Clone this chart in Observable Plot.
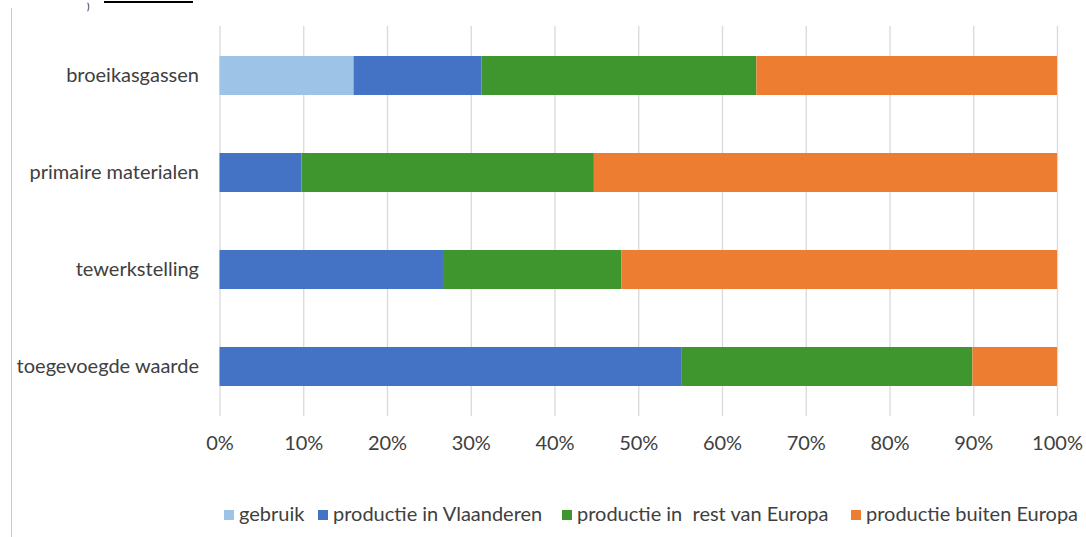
<!DOCTYPE html>
<html>
<head>
<meta charset="utf-8">
<script src="https://cdn.jsdelivr.net/npm/d3@7"></script>
<script src="https://cdn.jsdelivr.net/npm/@observablehq/plot@0.6"></script>
<style>
  html, body { margin: 0; padding: 0; background: #fff; }
  body { width: 1086px; height: 537px; position: relative; overflow: hidden; font-family: Lato, "Noto Sans", sans-serif; }
  #leftrule { position: absolute; left: 11px; top: 8px; width: 1px; height: 529px; background: #c8c8c8; }
  #topfrag { position: absolute; left: 87px; top: 1px; font-size: 9px; line-height: 11px; color: #000; }
  #topline { position: absolute; left: 104px; top: 1px; width: 89px; height: 2px; background: #000; }
  #chart { position: absolute; left: 0; top: 0; }
  #legend { position: absolute; left: 0; top: 500px; width: 1086px; font-size: 20px; color: #404040; }
  .item { position: absolute; top: 0; white-space: pre; line-height: 26px; }
  .sw { display: inline-block; width: 10px; height: 10px; margin-right: 5px; vertical-align: 1px; }
</style>
</head>
<body>
<div id="leftrule"></div>
<div id="topfrag">)</div>
<div id="topline"></div>
<div id="chart"></div>
<div id="legend"></div>
<script>
const categories = ["broeikasgassen", "primaire materialen", "tewerkstelling", "toegevoegde waarde"];
const series = ["gebruik", "productie in Vlaanderen", "productie in  rest van Europa", "productie buiten Europa"];
const colors = ["#9dc3e6", "#4472c4", "#3f962f", "#ed7d31"];
const gebruik = [16.0, 0, 0, 0];
const vlaanderen = [15.3, 9.8, 26.8, 55.2];
const restEuropa = [32.8, 34.9, 21.2, 34.7];
const buitenEuropa = [35.9, 55.3, 52.0, 10.1];
const xTicks = [0, 10, 20, 30, 40, 50, 60, 70, 80, 90, 100];
const legendX = [224, 318, 562, 851];

const seriesValues = [gebruik, vlaanderen, restEuropa, buitenEuropa];
const data = [];
categories.forEach((c, i) => {
  series.forEach((s, j) => {
    data.push({category: c, series: s, value: seriesValues[j][i] / 100});
  });
});

const chart = Plot.plot({
  width: 1086,
  height: 460,
  marginLeft: 219.5,
  marginRight: 29,
  marginTop: 26,
  marginBottom: 44,
  style: { fontFamily: "Lato, 'Noto Sans', sans-serif", fontSize: "20px", color: "#404040", background: "transparent" },
  x: { domain: [0, 1], ticks: xTicks.map(d => d / 100), tickFormat: d => Math.round(d * 100) + "%", label: null },
  y: { domain: categories, paddingInner: 0.6, paddingOuter: 0.3, label: null },
  color: { domain: series, range: colors },
  marks: [
    Plot.gridX(xTicks.map(d => d / 100), { stroke: "#d9d9d9", strokeOpacity: 1, strokeWidth: 1.3 }),
    Plot.barX(data, { x: "value", y: "category", fill: "series", order: series }),
    Plot.axisX({ ticks: xTicks.map(d => d / 100), tickFormat: d => Math.round(d * 100) + "%", tickSize: 0, tickPadding: 19, label: null, fill: "#404040" }),
    Plot.axisY({ tickSize: 0, tickPadding: 21, label: null, fill: "#404040" })
  ]
});
document.getElementById("chart").appendChild(chart);

const legend = document.getElementById("legend");
series.forEach((s, j) => {
  const it = document.createElement("div");
  it.className = "item";
  it.style.left = legendX[j] + "px";
  const sw = document.createElement("span");
  sw.className = "sw";
  sw.style.background = colors[j];
  it.appendChild(sw);
  it.appendChild(document.createTextNode(s));
  legend.appendChild(it);
});
</script>
</body>
</html>
